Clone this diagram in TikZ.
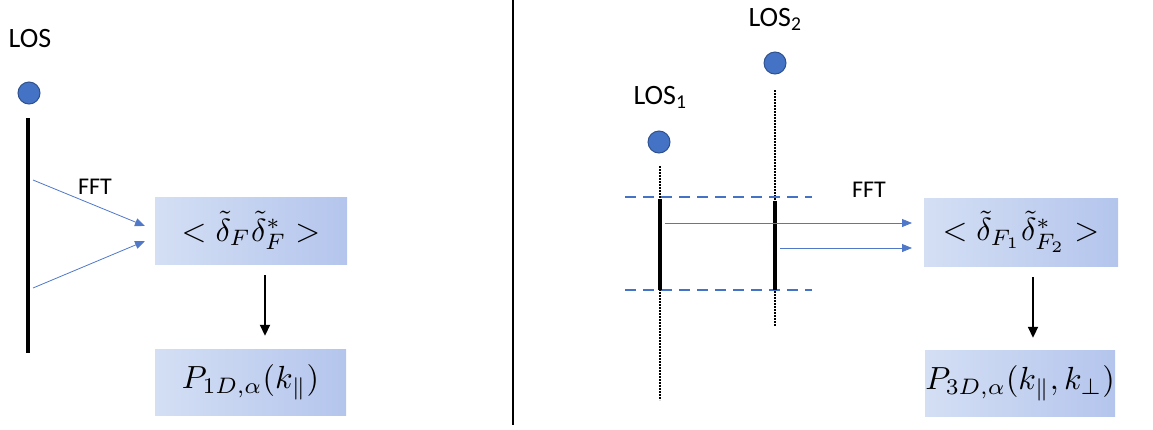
\documentclass[tikz,border=0pt]{standalone}
\usepackage{graphicx}
\usepackage{fontspec}
\newfontfamily\labelfont{Carlito}
\usetikzlibrary{arrows.meta}

\definecolor{losblue}{RGB}{68,114,196}
\definecolor{losedge}{RGB}{47,82,143}
\definecolor{boxleft}{RGB}{212,223,244}
\definecolor{boxright}{RGB}{180,197,237}
\definecolor{fftblue}{RGB}{80,120,200}

% formulas in the boxes, set at 10pt and enlarged
\newcommand\boxmath[1]{\scalebox{3.2}{$#1$}}

\tikzset{
  losdot/.style={circle, fill=losblue, draw=losedge, line width=1pt, minimum size=22pt, inner sep=0pt},
  loslabel/.style={font=\labelfont\fontsize{28}{33}\selectfont, inner sep=0pt},
  fftlabel/.style={font=\labelfont\fontsize{24}{28}\selectfont, inner sep=0pt},
  mathbox/.style={rectangle, left color=boxleft, right color=boxright, inner sep=0pt},
  sightline/.style={black, line width=3.5pt},
  dottedsight/.style={black, line width=2.2pt, dash pattern=on 1.6pt off 1.4pt},
  slab/.style={losblue, line width=2.5pt, dash pattern=on 11pt off 7pt},
  fftarrow/.style={fftblue, line width=0.8pt, -{Triangle[length=10pt,width=8pt]}},
  steparrow/.style={black, line width=1.8pt, -{Triangle[length=11pt,width=10pt]}},
  divider/.style={black, line width=2pt}
}

\begin{document}
\begin{tikzpicture}[x=1pt,y=-1pt]
\useasboundingbox (0,0) rectangle (1153,429);

% ---- single line of sight ----
\node[loslabel] (los) at (30,39) {LOS};
\node[losdot] (q) at (29,93) {};
\coordinate (lt) at (28,118);
\coordinate (lb) at (28,353);
\draw[sightline] (lt) -- (lb);

\node[mathbox, minimum width=192pt, minimum height=67pt] (cf) at (251,230.5)
  {\boxmath{<\tilde{\delta}_F\tilde{\delta}^*_F>}};
\node[mathbox, minimum width=191pt, minimum height=66pt] (p1) at (250.5,382)
  {\boxmath{P_{1D,\alpha}(k_\parallel)}};

\coordinate (a1) at (33,180);
\coordinate (a2) at (33,288);
\coordinate (e1) at (145,226);
\coordinate (e2) at (145,241);
\draw[fftarrow] (a1) -- (e1);
\draw[fftarrow] (a2) -- (e2);
\node[fftlabel] (fft1) at (95,187) {FFT};

\draw[steparrow, shorten <=11pt, shorten >=13pt] (cf.south -| 265,0) -- (p1.north -| 265,0);

% ---- divider ----
\coordinate (dt) at (513,0);
\coordinate (db) at (513,425);
\draw[divider] (dt) -- (db);

% ---- pair of lines of sight ----
\node[loslabel] (los2) at (775,19) {LOS\textsubscript{2}};
\node[losdot] (q2) at (775,63) {};
\node[loslabel] (los1) at (660,97) {LOS\textsubscript{1}};
\node[losdot] (q1) at (659,142) {};

\coordinate (s1t) at (660,166);
\coordinate (s1b) at (660,400);
\coordinate (s2t) at (775,90);
\coordinate (s2b) at (775,326);
\draw[dottedsight] (s1t) -- (s1b);
\draw[dottedsight] (s2t) -- (s2b);

\coordinate (ht1) at (625,197);
\coordinate (ht2) at (812,197);
\coordinate (hb1) at (625,290);
\coordinate (hb2) at (812,290);
\draw[slab] (ht1) -- (ht2);
\draw[slab] (hb1) -- (hb2);

\coordinate (k1t) at (660,199);
\coordinate (k1b) at (660,290);
\coordinate (k2t) at (775,201);
\coordinate (k2b) at (775,290);
\draw[sightline] (k1t) -- (k1b);
\draw[sightline] (k2t) -- (k2b);

\node[mathbox, minimum width=194pt, minimum height=68pt] (cf2) at (1021,232)
  {\boxmath{<\tilde{\delta}_{F_1}\tilde{\delta}^*_{F_2}>}};
\node[mathbox, minimum width=190pt, minimum height=66pt] (p3) at (1020,383)
  {\boxmath{P_{3D,\alpha}(k_\parallel,k_\perp)}};

\coordinate (b1) at (665,223);
\coordinate (b2) at (780,248);
\coordinate (f1) at (912,223);
\coordinate (f2) at (912,248);
\draw[fftarrow] (b1) -- (f1);
\draw[fftarrow] (b2) -- (f2);
\node[fftlabel] (fft2) at (869,190) {FFT};

\draw[steparrow, shorten <=11pt, shorten >=12pt] (cf2.south -| 1033,0) -- (p3.north -| 1033,0);
\end{tikzpicture}
\end{document}
